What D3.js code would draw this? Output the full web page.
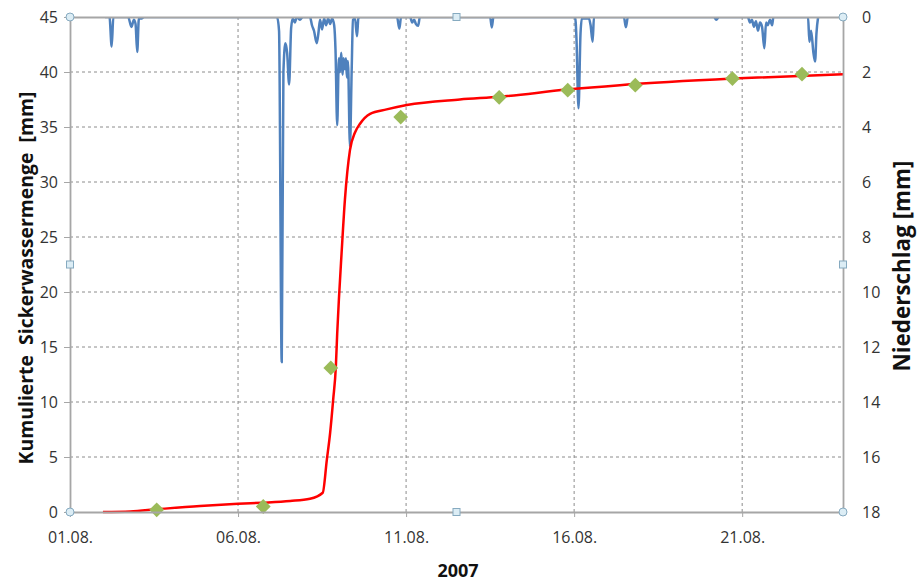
<!DOCTYPE html>
<html><head><meta charset="utf-8">
<script src="https://cdn.jsdelivr.net/npm/d3@7"></script>
<style>body{margin:0;background:#fff} svg{display:block}</style>
</head><body>
<svg id="c" width="919" height="583"></svg>
<script>
// ---- data ----
const startDate = Date.UTC(2007, 7, 1);          // 01.08.2007
const endDay = 23;                                 // 24.08.
const xTickDays = [0, 5, 10, 15, 20];
const leftTicks = [0, 5, 10, 15, 20, 25, 30, 35, 40, 45];
const rightTicks = [0, 2, 4, 6, 8, 10, 12, 14, 16, 18];
const xTitle = "2007";
const leftTitle = "Kumulierte  Sickerwassermenge  [mm]";
const rightTitle = "Niederschlag [mm]";

// cumulative seepage (simulated), [day since 01.08., mm]
const cumulative = [
  [0.98, 0], [1.79, 0.05], [2.59, 0.25], [3.87, 0.55], [5.00, 0.75], [5.74, 0.85],
  [6.55, 1.0], [7.14, 1.2], [7.52, 1.75], [7.64, 4.7], [7.74, 7.2], [7.83, 10.2],
  [7.91, 13.2], [7.95, 16.2], [8.00, 19.3], [8.08, 23.5], [8.18, 28.4], [8.33, 32.9],
  [8.48, 34.5], [8.63, 35.3], [8.93, 36.2], [9.42, 36.6], [10.02, 37.0], [11.60, 37.5],
  [12.79, 37.75], [14.78, 38.4], [16.36, 38.8], [19.73, 39.4], [23.0, 39.8]
];

// measured cumulative seepage, [day, mm]
const measured = [
  [2.58, 0.2], [5.75, 0.5], [7.76, 13.1], [9.84, 35.9], [12.77, 37.7],
  [14.81, 38.35], [16.82, 38.8], [19.71, 39.4], [21.78, 39.8]
];

// precipitation, [day, mm]
const precipitation = [
  [1.04, 0], [1.175, 0], [1.24, 1.07], [1.29, 0], [1.73, 0], [1.83, 0.36], [1.90, 0.1],
  [1.95, 0.25], [2.00, 1.27], [2.05, 0.05], [2.14, 0.05], [2.20, 0],
  [6.16, 0], [6.22, 0.5], [6.30, 12.55], [6.35, 2.0], [6.41, 0.95], [6.46, 1.3],
  [6.52, 2.45], [6.58, 0.4], [6.63, 0.05], [6.69, 0.2], [6.75, 0], [6.84, 0.1], [6.93, 0],
  [7.14, 0], [7.20, 0.3], [7.26, 0.5], [7.34, 0.95], [7.39, 0.6], [7.44, 0.1], [7.50, 0.45],
  [7.56, 0.05], [7.62, 0.3], [7.68, 0.05], [7.74, 0.25], [7.80, 0.05], [7.86, 0.3],
  [7.90, 1.2], [7.95, 3.93], [8.00, 1.5], [8.03, 2.0], [8.07, 1.3], [8.11, 2.1],
  [8.14, 1.5], [8.18, 1.9], [8.21, 1.5], [8.24, 2.2], [8.27, 1.6], [8.33, 4.7],
  [8.38, 2.0], [8.42, 0.1], [8.48, 0.05], [8.54, 0.7], [8.58, 0.05], [8.63, 0],
  [9.73, 0], [9.80, 0.42], [9.85, 0], [10.12, 0], [10.18, 0.2], [10.24, 0.1],
  [10.29, 0.25], [10.36, 0.32], [10.41, 0], [12.50, 0], [12.55, 0.38], [12.60, 0],
  [15.03, 0], [15.07, 0.8], [15.13, 3.32], [15.19, 0.6], [15.23, 0.05], [15.44, 0.05],
  [15.49, 0.3], [15.55, 0.9], [15.59, 0], [16.48, 0], [16.54, 0.37], [16.60, 0],
  [19.16, 0], [19.23, 0.1], [19.31, 0], [20.17, 0], [20.23, 0.2], [20.29, 0.1],
  [20.35, 0.35], [20.41, 0.15], [20.47, 0.5], [20.53, 0.2], [20.59, 0.35], [20.66, 1.14],
  [20.71, 0.2], [20.76, 0.3], [20.83, 0.1], [20.89, 0.3], [20.93, 0],
  [21.96, 0], [22.00, 0.9], [22.05, 0.5], [22.12, 1.3], [22.17, 1.62], [22.21, 0.6], [22.26, 0]
];

// ---- layout ----
const L = 70, R = 843, T = 17, B = 512;
const toDate = d => new Date(startDate + d * 86400000);
const svg = d3.select("#c");
const x = d3.scaleUtc().domain([toDate(0), toDate(endDay)]).range([L, R]);
const yL = d3.scaleLinear().domain([0, 45]).range([B, T]);
const yR = d3.scaleLinear().domain([0, 18]).range([T, B]);
const gridColor = "#8c8c8c", axisColor = "#a6a6a6";
const tickFont = "'Open Sans', 'Liberation Sans', sans-serif";

svg.append("defs").append("clipPath").attr("id", "plot")
  .append("rect").attr("x", L).attr("y", T).attr("width", R - L).attr("height", B - T);

// grid
svg.append("g").selectAll("line").data(leftTicks.filter(v => v > 0 && v < 45)).join("line")
  .attr("x1", L).attr("x2", R).attr("y1", d => yL(d)).attr("y2", d => yL(d))
  .attr("stroke", gridColor).attr("stroke-width", 1).attr("stroke-dasharray", "3,3");
svg.append("g").selectAll("line").data(xTickDays.filter(d => d > 0)).join("line")
  .attr("x1", d => x(toDate(d))).attr("x2", d => x(toDate(d))).attr("y1", T).attr("y2", B)
  .attr("stroke", gridColor).attr("stroke-width", 1).attr("stroke-dasharray", "3,3");

// precipitation
svg.append("path").datum(precipitation)
  .attr("clip-path", "url(#plot)")
  .attr("fill", "none").attr("stroke", "#4f81bd").attr("stroke-width", 2.5)
  .attr("stroke-linejoin", "round")
  .attr("d", d3.line().x(d => x(toDate(d[0]))).y(d => yR(d[1])).curve(d3.curveMonotoneX));

// cumulative
svg.append("path").datum(cumulative)
  .attr("fill", "none").attr("stroke", "#ff0000").attr("stroke-width", 2.5)
  .attr("stroke-linejoin", "round")
  .attr("d", d3.line().x(d => x(toDate(d[0]))).y(d => yL(d[1])).curve(d3.curveMonotoneX));

// measured diamonds
svg.append("g").selectAll("path").data(measured).join("path")
  .attr("transform", d => `translate(${x(toDate(d[0]))},${yL(d[1])}) rotate(45)`)
  .attr("d", d3.symbol().type(d3.symbolSquare).size(110))
  .attr("fill", "#9bbb59");

// axes
function styleAxis(g) {
  g.selectAll(".domain").attr("stroke", axisColor).attr("stroke-width", 1.8);
  g.selectAll(".tick line").attr("stroke", axisColor).attr("stroke-width", 1);
  g.selectAll("text").attr("fill", "#333").attr("font-family", tickFont).attr("font-size", 16);
}
svg.append("g").attr("transform", `translate(${L},0)`)
  .call(d3.axisLeft(yL).tickValues(leftTicks).tickSize(6).tickPadding(6).tickSizeOuter(0))
  .call(styleAxis);
svg.append("g").attr("transform", `translate(${R},0)`)
  .call(d3.axisRight(yR).tickValues(rightTicks).tickSize(0).tickPadding(19))
  .call(styleAxis);
svg.append("g").attr("transform", `translate(0,${B})`)
  .call(d3.axisBottom(x).tickValues(xTickDays.map(toDate)).tickFormat(d3.utcFormat("%d.%m."))
    .tickSize(5).tickPadding(15).tickSizeOuter(0))
  .call(styleAxis);
svg.append("g").attr("transform", `translate(0,${T})`)
  .call(d3.axisTop(x).tickValues([]).tickSizeOuter(0))
  .call(styleAxis);

// titles
function fit(sel, target) {
  const len = sel.node().getComputedTextLength();
  const fs = parseFloat(sel.attr("font-size"));
  sel.attr("font-size", (fs * target / len).toFixed(2));
}
const titleFont = "'Open Sans', 'Liberation Sans', sans-serif";
const tl = svg.append("text").attr("transform", "translate(33,278) rotate(-90)")
  .attr("text-anchor", "middle").attr("font-family", titleFont).attr("font-weight", "bold")
  .attr("font-size", 17).attr("fill", "#111").attr("xml:space", "preserve")
  .style("white-space", "pre").text(leftTitle);
fit(tl, 373);
const tr = svg.append("text").attr("transform", "translate(910,266) rotate(-90)")
  .attr("text-anchor", "middle").attr("font-family", titleFont).attr("font-weight", "bold")
  .attr("font-size", 18).attr("fill", "#111").text(rightTitle);
fit(tr, 211);
svg.append("text").attr("x", 458).attr("y", 577).attr("text-anchor", "middle")
  .attr("font-family", titleFont).attr("font-weight", "bold").attr("font-size", 18)
  .attr("fill", "#111").text(xTitle);

// selection handles (as in the original screenshot)
const midX = (L + R) / 2, midY = (T + B) / 2;
svg.append("g").selectAll("circle").data([[L, T], [R, T], [L, B], [R, B]]).join("circle")
  .attr("cx", d => d[0]).attr("cy", d => d[1]).attr("r", 4)
  .attr("fill", "#dcedf5").attr("stroke", "#86aac0").attr("stroke-width", 1);
svg.append("g").selectAll("rect").data([[midX, T], [midX, B], [L, midY], [R, midY]]).join("rect")
  .attr("x", d => d[0] - 3.5).attr("y", d => d[1] - 3.5).attr("width", 7).attr("height", 7)
  .attr("fill", "#dcedf5").attr("stroke", "#86aac0").attr("stroke-width", 1);
</script>
</body></html>
